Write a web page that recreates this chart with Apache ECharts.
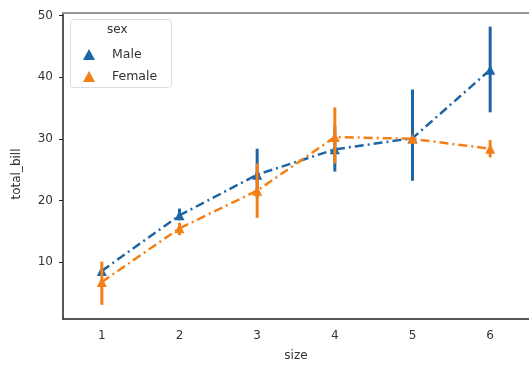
<!DOCTYPE html>
<html lang="en" style="height: 100%">
<head>
  <meta charset="utf-8">
</head>
<body style="height: 100%; margin: 0; background: #fff">
<div id="container" style="height: 100%"></div>

<script type="text/javascript" src="https://cdn.jsdelivr.net/npm/echarts@6/dist/echarts.min.js"></script>
<script type="text/javascript">
  // data
  var sizes = ['1', '2', '3', '4', '5', '6'];
  var maleMean = [8.6, 17.6, 24.2, 28.3, 30.1, 41.2];
  var maleLow = [8.6, 16.8, 20.5, 24.7, 23.2, 34.3];
  var maleHigh = [8.6, 18.7, 28.4, 32.0, 38.0, 48.2];
  var femaleMean = [6.8, 15.5, 21.6, 30.3, 30.0, 28.4];
  var femaleLow = [3.1, 14.4, 17.2, 26.0, 30.0, 27.0];
  var femaleHigh = [10.1, 16.4, 26.0, 35.1, 30.0, 29.8];

  var BLUE = '#1d66a6';
  var ORANGE = '#f57f17';
  var dashDot = [9, 4, 2, 4];

  var dom = document.getElementById('container');
  var myChart = echarts.init(dom, null, { renderer: 'canvas' });

  function errBars(low, high) {
    return sizes.map(function (s, i) { return [i, low[i], high[i]]; });
  }

  function barRenderer(color) {
    return function (params, api) {
      var a = api.coord([api.value(0), api.value(1)]);
      var b = api.coord([api.value(0), api.value(2)]);
      return {
        type: 'line',
        shape: { x1: a[0], y1: a[1], x2: b[0], y2: b[1] },
        style: { stroke: color, lineWidth: 3 }
      };
    };
  }

  var labelFont = { fontFamily: 'DejaVu Sans', fontSize: 12, color: '#333' };

  var option = {
    animation: false,
    grid: { left: 63, right: -8, top: 13, bottom: 45 },
    graphic: [
      {
        type: 'rect',
        left: 70, top: 19,
        shape: { width: 101, height: 68, r: 3 },
        style: { fill: '#fff', stroke: '#ddd', lineWidth: 1 },
        z: 50
      },
      {
        type: 'text',
        left: 107, top: 24,
        style: { text: 'sex', font: '12px DejaVu Sans', fill: '#333' },
        z: 51
      }
    ],
    legend: {
      orient: 'vertical',
      left: 78, top: 43,
      itemWidth: 12, itemHeight: 11,
      itemGap: 9,
      icon: 'triangle',
      textStyle: { fontFamily: 'DejaVu Sans', fontSize: 12.5, color: '#333', padding: [0, 0, 0, 12] },
      data: ['Male', 'Female'],
      z: 52
    },
    xAxis: [
      {
        type: 'category',
        data: sizes,
        name: 'size',
        nameLocation: 'middle',
        nameGap: 31,
        nameTextStyle: labelFont,
        axisLine: { lineStyle: { color: '#222', width: 1.5 } },
        axisTick: { alignWithLabel: true, length: 4, lineStyle: { color: '#222' } },
        axisLabel: Object.assign({ margin: 11 }, labelFont),
        splitLine: { show: false }
      },
      {
        type: 'category',
        data: sizes,
        position: 'top',
        axisLine: { lineStyle: { color: '#999', width: 2 } },
        axisTick: { show: false },
        axisLabel: { show: false }
      }
    ],
    yAxis: {
      type: 'value',
      min: 0.8,
      max: 50.4,
      splitNumber: 5,
      name: 'total_bill',
      nameLocation: 'middle',
      nameGap: 40,
      nameTextStyle: Object.assign({ padding: [0, 0, 0, -16] }, labelFont),
      axisLine: { show: true, lineStyle: { color: '#222', width: 1.5 } },
      axisTick: { show: true, length: 4, lineStyle: { color: '#222' } },
      axisLabel: Object.assign({
        margin: 10,
        showMinLabel: false,
        showMaxLabel: false,
        formatter: function (v) { return Math.abs(v % 10) < 1e-6 ? String(v) : ''; }
      }, labelFont),
      splitLine: { show: false }
    },
    series: [
      {
        name: 'Male',
        type: 'line',
        data: maleMean,
        color: BLUE,
        symbol: 'triangle',
        symbolSize: 10,
        lineStyle: { width: 2.5, type: dashDot },
        z: 2
      },
      {
        name: 'Male',
        type: 'custom',
        data: errBars(maleLow, maleHigh),
        encode: { x: 0, y: [1, 2] },
        renderItem: barRenderer(BLUE),
        z: 2
      },
      {
        name: 'Female',
        type: 'line',
        data: femaleMean,
        color: ORANGE,
        symbol: 'triangle',
        symbolSize: 10,
        lineStyle: { width: 2.5, type: dashDot },
        z: 3
      },
      {
        name: 'Female',
        type: 'custom',
        data: errBars(femaleLow, femaleHigh),
        encode: { x: 0, y: [1, 2] },
        renderItem: barRenderer(ORANGE),
        z: 3
      }
    ]
  };

  myChart.setOption(option);
  window.addEventListener('resize', myChart.resize);
</script>
</body>
</html>
